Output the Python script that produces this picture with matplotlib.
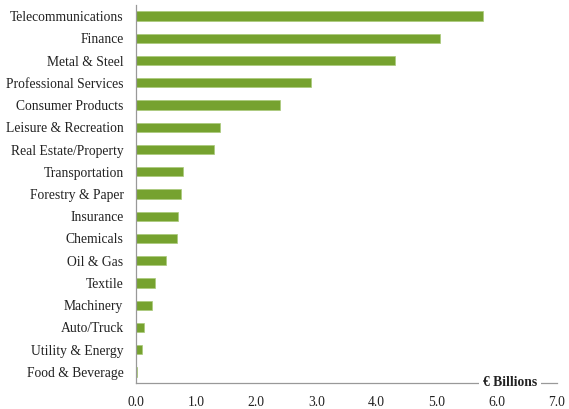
import matplotlib
matplotlib.use("Agg")
import matplotlib.pyplot as plt

categories = ["Telecommunications", "Finance", "Metal & Steel", "Professional Services",
              "Consumer Products", "Leisure & Recreation", "Real Estate/Property",
              "Transportation", "Forestry & Paper", "Insurance", "Chemicals", "Oil & Gas",
              "Textile", "Machinery", "Auto/Truck", "Utility & Energy", "Food & Beverage"]
values = [5.77, 5.06, 4.30, 2.91, 2.40, 1.39, 1.29, 0.78, 0.74, 0.70, 0.68, 0.50,
          0.32, 0.26, 0.13, 0.10, 0.02]
xticks = [0, 1, 2, 3, 4, 5, 6, 7]
xlabel = "€ Billions"

plt.rcParams['font.family'] = ['Liberation Serif', 'DejaVu Serif']

fig = plt.figure(figsize=(5.69, 4.09), dpi=100)
ax = fig.add_axes([136/569, 1-383/409, (557-136)/569, (383-5)/409])

n = len(categories)
ypos = list(range(n-1, -1, -1))
ax.barh(ypos, values, height=0.42, color='#76A22F', edgecolor='#A9C97A', linewidth=0.5)
ax.set_ylim(-0.5, n-0.5)
ax.set_xlim(0, 7)
ax.set_yticks(ypos)
ax.set_yticklabels(categories, fontsize=9.8, color='#222222')
ax.set_xticks(xticks)
ax.set_xticklabels([f"{t:.1f}" for t in xticks], fontsize=9.8, color='#222222')
ax.tick_params(length=0)
ax.tick_params(axis='x', pad=9.5)
ax.tick_params(axis='y', pad=9)
for s in ['top', 'right']:
    ax.spines[s].set_visible(False)
for s in ['left', 'bottom']:
    ax.spines[s].set_color('#999999')
    ax.spines[s].set_linewidth(0.9)
ax.text(6.22, 0, xlabel, transform=ax.get_xaxis_transform(), ha='center', va='center',
        fontsize=9.8, fontweight='bold', color='#222222',
        bbox=dict(facecolor='white', edgecolor='none', pad=3))
fig.savefig("out.png", dpi=100)
